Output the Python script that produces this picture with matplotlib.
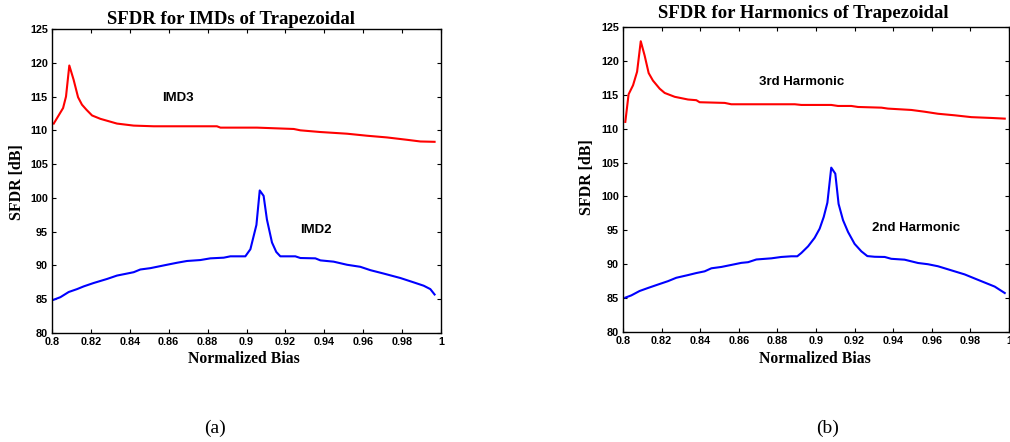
import numpy as np
import matplotlib
matplotlib.use("Agg")
import matplotlib.pyplot as plt

# IMD panel (a)
imd3_x = [0.8009, 0.8057, 0.8072, 0.8089, 0.8111, 0.8134, 0.8154, 0.8177, 0.8206,
          0.8249, 0.8334, 0.8420, 0.8523, 0.8848, 0.8866, 0.9054, 0.9243, 0.9277,
          0.9380, 0.9517, 0.9620, 0.9722, 0.9825, 0.9894, 0.9967]
imd3_y = [111.0, 113.3, 115.0, 119.6, 117.5, 114.9, 113.8, 113.05, 112.2,
          111.7, 111.0, 110.7, 110.6, 110.6, 110.4, 110.4, 110.2, 110.0,
          109.75, 109.5, 109.2, 108.95, 108.6, 108.35, 108.3]

imd2_x = [0.8009, 0.8043, 0.8086, 0.8129, 0.8163, 0.8214, 0.8283, 0.8334, 0.8386,
          0.8420, 0.8454, 0.8506, 0.8591, 0.8643, 0.8694, 0.8763, 0.8814, 0.8883,
          0.8917, 0.8994, 0.9020, 0.9051, 0.9068, 0.9088, 0.9105, 0.9131, 0.9153,
          0.9174, 0.9251, 0.9277, 0.9354, 0.9380, 0.9448, 0.9517, 0.9585, 0.9637,
          0.9705, 0.9791, 0.9859, 0.9911, 0.9945, 0.9967]
imd2_y = [84.93, 85.3, 86.07, 86.5, 86.9, 87.4, 88.0, 88.5, 88.8,
          89.0, 89.4, 89.6, 90.1, 90.4, 90.66, 90.8, 91.05, 91.15,
          91.35, 91.35, 92.4, 96.0, 101.1, 100.3, 96.8, 93.4, 92.0,
          91.35, 91.35, 91.1, 91.05, 90.75, 90.56, 90.1, 89.8, 89.3,
          88.8, 88.14, 87.5, 87.0, 86.5, 85.7]

# Harmonics panel (b)
h3_x = [0.8012, 0.8029, 0.8052, 0.8073, 0.8092, 0.8112, 0.8133, 0.8155, 0.8190,
        0.8216, 0.8268, 0.8337, 0.8380, 0.8397, 0.8527, 0.8561, 0.8890, 0.8924,
        0.9079, 0.9114, 0.9183, 0.9218, 0.9339, 0.9373, 0.9494, 0.9563, 0.9632,
        0.9719, 0.9805, 0.9909, 0.9978]
h3_y = [111.0, 115.07, 116.4, 118.4, 122.9, 120.8, 118.2, 117.1, 115.9,
        115.27, 114.7, 114.3, 114.2, 113.9, 113.8, 113.6, 113.6, 113.5,
        113.5, 113.35, 113.35, 113.2, 113.1, 112.96, 112.76, 112.5, 112.2,
        111.97, 111.7, 111.58, 111.48]

h2_x = [0.8012, 0.8043, 0.8086, 0.8130, 0.8181, 0.8233, 0.8276, 0.8337, 0.8380,
        0.8423, 0.8458, 0.8510, 0.8579, 0.8613, 0.8648, 0.8691, 0.8769, 0.8820,
        0.8872, 0.8903, 0.8924, 0.8959, 0.8993, 0.9019, 0.9040, 0.9059, 0.9079,
        0.9100, 0.9117, 0.9140, 0.9166, 0.9200, 0.9235, 0.9266, 0.9304, 0.9356,
        0.9390, 0.9459, 0.9529, 0.9580, 0.9632, 0.9701, 0.9770, 0.9839, 0.9926,
        0.9978]
h2_y = [85.07, 85.4, 86.05, 86.5, 87.0, 87.5, 88.0, 88.4, 88.7,
        88.95, 89.4, 89.6, 90.0, 90.2, 90.3, 90.7, 90.87, 91.07,
        91.17, 91.17, 91.66, 92.64, 93.9, 95.25, 96.97, 99.08, 104.25,
        103.36, 98.9, 96.5, 94.76, 93.0, 91.9, 91.2, 91.1, 91.07,
        90.8, 90.67, 90.18, 90.0, 89.7, 89.1, 88.5, 87.7, 86.7,
        85.75]

xticks = [0.8, 0.82, 0.84, 0.86, 0.88, 0.9, 0.92, 0.94, 0.96, 0.98, 1]
xticklabels = ['0.8', '0.82', '0.84', '0.86', '0.88', '0.9', '0.92', '0.94', '0.96', '0.98', '1']
yticks = [80, 85, 90, 95, 100, 105, 110, 115, 120, 125]

serif = ['Liberation Serif', 'DejaVu Serif']
sans = ['Liberation Sans', 'DejaVu Sans']

fig = plt.figure(figsize=(10.10, 4.42), dpi=100)
W, H = 1010.0, 442.0


def make_axes(left, top, right, bottom):
    ax = fig.add_axes([left / W, 1 - bottom / H, (right - left) / W, (bottom - top) / H])
    ax.set_xlim(0.8, 1.0)
    ax.set_ylim(80, 125)
    ax.set_xticks(xticks)
    ax.set_xticklabels(xticklabels)
    ax.set_yticks(yticks)
    ax.tick_params(direction='in', length=3, width=0.8, top=True, right=True,
                   labelsize=7.8, pad=3)
    for lab in ax.get_xticklabels() + ax.get_yticklabels():
        lab.set_family(sans)
        lab.set_fontweight('bold')
    for s in ax.spines.values():
        s.set_linewidth(1.0)
    return ax


ax1 = make_axes(52, 29, 441, 333)
ax1.plot(imd3_x, imd3_y, color='#ff0000', lw=1.5)
ax1.plot(imd2_x, imd2_y, color='#0000ff', lw=1.5)
ax1.text(0.8648, 114.8, 'IMD3', family=sans, fontweight='bold', fontsize=9.5,
         ha='center', va='center')
ax1.text(0.9357, 95.25, 'IMD2', family=sans, fontweight='bold', fontsize=9.5,
         ha='center', va='center')

ax2 = make_axes(623, 27, 1009, 332)
ax2.plot(h3_x, h3_y, color='#ff0000', lw=1.5)
ax2.plot(h2_x, h2_y, color='#0000ff', lw=1.5)
ax2.text(0.8927, 116.9, '3rd Harmonic', family=sans, fontweight='bold', fontsize=9.5,
         ha='center', va='center')
ax2.text(0.9518, 95.3, '2nd Harmonic', family=sans, fontweight='bold', fontsize=9.5,
         ha='center', va='center')

# titles and labels
fig.text(231 / W, 1 - 19 / H, 'SFDR for IMDs of Trapezoidal', family=serif,
         fontweight='bold', fontsize=13.5, ha='center', va='center')
fig.text(803 / W, 1 - 14 / H, 'SFDR for Harmonics of Trapezoidal', family=serif,
         fontweight='bold', fontsize=13.5, ha='center', va='center')
fig.text(244 / W, 1 - 359 / H, 'Normalized Bias', family=serif,
         fontweight='bold', fontsize=11.3, ha='center', va='center')
fig.text(815 / W, 1 - 359 / H, 'Normalized Bias', family=serif,
         fontweight='bold', fontsize=11.3, ha='center', va='center')
fig.text(17 / W, 1 - 182 / H, 'SFDR [dB]', family=serif, fontweight='bold',
         fontsize=11.5, rotation=90, ha='center', va='center')
fig.text(587 / W, 1 - 177 / H, 'SFDR [dB]', family=serif, fontweight='bold',
         fontsize=11.5, rotation=90, ha='center', va='center')
fig.text(215 / W, 1 - 428 / H, '(a)', family=serif, fontsize=14,
         ha='center', va='center')
fig.text(828 / W, 1 - 428 / H, '(b)', family=serif, fontsize=14,
         ha='center', va='center')

fig.savefig('out.png', dpi=100)
